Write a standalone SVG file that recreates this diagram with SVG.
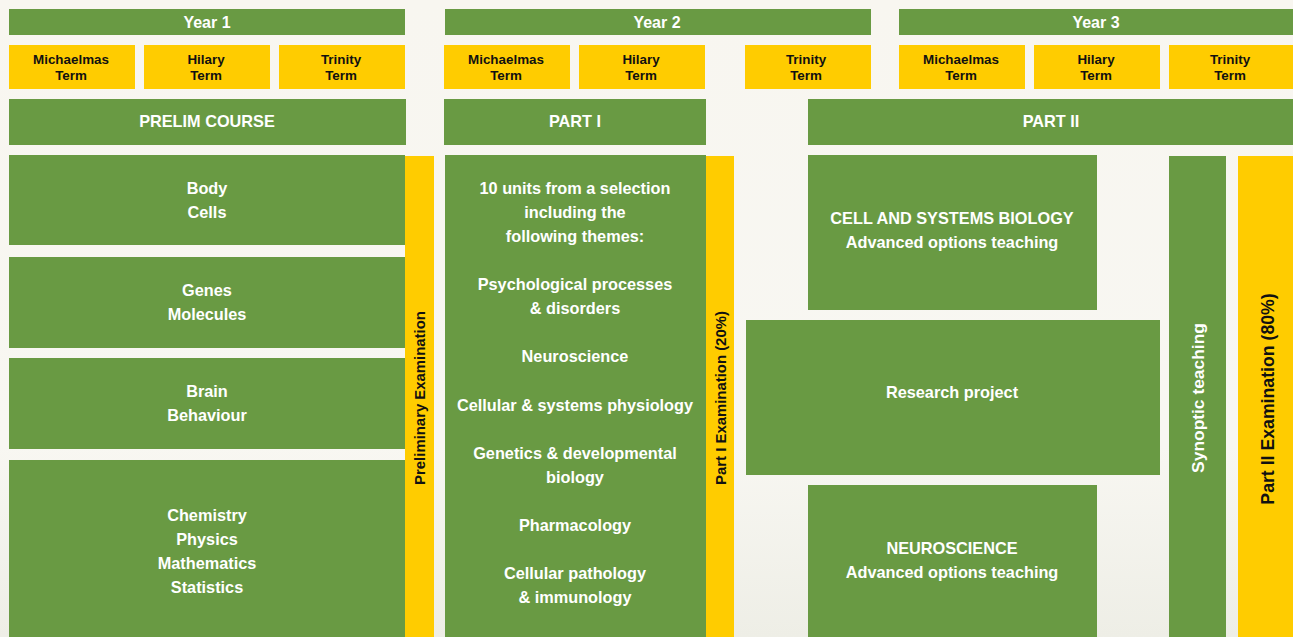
<svg xmlns="http://www.w3.org/2000/svg" width="1293" height="637" viewBox="0 0 1293 637">
<defs>
<linearGradient id="bg" x1="0" y1="0" x2="0" y2="1">
<stop offset="0" stop-color="#F8F6F0"/>
<stop offset="0.7" stop-color="#F8F7F2"/>
<stop offset="1" stop-color="#EEEEE6"/>
</linearGradient>
</defs>
<style>
.g{fill:#699A43}
.y{fill:#FFCC00}
text{font-family:"Liberation Sans",Arial,sans-serif;font-weight:bold;text-anchor:middle;dominant-baseline:central}
.w{fill:#FFFFFF;font-size:16.3px}
.yr{fill:#FFFFFF;font-size:16px}
.t{fill:#111111;font-size:13.4px}
.v{fill:#111111;font-size:14.9px}
.vw{fill:#FFFFFF;font-size:17.4px}
.vb{fill:#111111;font-size:17.7px}
</style>
<rect width="1293" height="637" fill="url(#bg)"/>

<g id="year1"><rect class="g" x="9" y="9" width="396" height="26"/><text class="yr" x="207" y="22">Year 1</text></g>
<g id="year2"><rect class="g" x="445" y="9" width="426" height="26"/><text class="yr" x="657" y="22">Year 2</text></g>
<g id="year3"><rect class="g" x="899" y="9" width="394" height="26"/><text class="yr" x="1096" y="22">Year 3</text></g>

<g id="y1-mich"><rect class="y" x="9" y="45" width="126" height="44"/><text class="t" x="71" y="59">Michaelmas</text><text class="t" x="71" y="75">Term</text></g>
<g id="y1-hil"><rect class="y" x="144" y="45" width="126" height="44"/><text class="t" x="206" y="59">Hilary</text><text class="t" x="206" y="75">Term</text></g>
<g id="y1-tri"><rect class="y" x="279" y="45" width="126" height="44"/><text class="t" x="341" y="59">Trinity</text><text class="t" x="341" y="75">Term</text></g>
<g id="y2-mich"><rect class="y" x="444" y="45" width="126" height="44"/><text class="t" x="506" y="59">Michaelmas</text><text class="t" x="506" y="75">Term</text></g>
<g id="y2-hil"><rect class="y" x="579" y="45" width="126" height="44"/><text class="t" x="641" y="59">Hilary</text><text class="t" x="641" y="75">Term</text></g>
<g id="y2-tri"><rect class="y" x="745" y="45" width="126" height="44"/><text class="t" x="806" y="59">Trinity</text><text class="t" x="806" y="75">Term</text></g>
<g id="y3-mich"><rect class="y" x="899" y="45" width="126" height="44"/><text class="t" x="961" y="59">Michaelmas</text><text class="t" x="961" y="75">Term</text></g>
<g id="y3-hil"><rect class="y" x="1034" y="45" width="126" height="44"/><text class="t" x="1096" y="59">Hilary</text><text class="t" x="1096" y="75">Term</text></g>
<g id="y3-tri"><rect class="y" x="1169" y="45" width="126" height="44"/><text class="t" x="1230" y="59">Trinity</text><text class="t" x="1230" y="75">Term</text></g>

<g id="prelim"><rect class="g" x="9" y="99" width="397" height="46"/><text class="w" x="207" y="121">PRELIM COURSE</text></g>
<g id="part1"><rect class="g" x="444" y="99" width="262" height="46"/><text class="w" x="575" y="121">PART I</text></g>
<g id="part2"><rect class="g" x="808" y="99" width="485" height="46"/><text class="w" x="1051" y="121">PART II</text></g>

<g id="body-cells"><rect class="g" x="9" y="155" width="396" height="90"/><text class="w" x="207" y="188">Body</text><text class="w" x="207" y="212">Cells</text></g>
<g id="genes"><rect class="g" x="9" y="257" width="396" height="91"/><text class="w" x="207" y="290">Genes</text><text class="w" x="207" y="314">Molecules</text></g>
<g id="brain"><rect class="g" x="9" y="358" width="396" height="91"/><text class="w" x="207" y="391">Brain</text><text class="w" x="207" y="415">Behaviour</text></g>
<g id="chem"><rect class="g" x="9" y="460" width="396" height="177"/><text class="w" x="207" y="515">Chemistry</text><text class="w" x="207" y="539">Physics</text><text class="w" x="207" y="563">Mathematics</text><text class="w" x="207" y="587">Statistics</text></g>

<g id="prelim-exam"><rect class="y" x="405" y="156" width="29" height="481"/><text class="v" transform="translate(420 398) rotate(-90)">Preliminary Examination</text></g>

<g id="part1-units"><rect class="g" x="445" y="155" width="261" height="482"/>
<text class="w" x="575" y="188">10 units from a selection</text>
<text class="w" x="575" y="212">including the</text>
<text class="w" x="575" y="236">following themes:</text>
<text class="w" x="575" y="284">Psychological processes</text>
<text class="w" x="575" y="308">&amp; disorders</text>
<text class="w" x="575" y="356">Neuroscience</text>
<text class="w" x="575" y="405">Cellular &amp; systems physiology</text>
<text class="w" x="575" y="453">Genetics &amp; developmental</text>
<text class="w" x="575" y="477">biology</text>
<text class="w" x="575" y="525">Pharmacology</text>
<text class="w" x="575" y="573">Cellular pathology</text>
<text class="w" x="575" y="597">&amp; immunology</text>
</g>

<g id="part1-exam"><rect class="y" x="706" y="156" width="28" height="481"/><text class="v" transform="translate(721 398) rotate(-90)">Part I Examination (20%)</text></g>

<g id="cell-sys"><rect class="g" x="808" y="155" width="289" height="155"/><text class="w" x="952" y="218">CELL AND SYSTEMS BIOLOGY</text><text class="w" x="952" y="242">Advanced options teaching</text></g>
<g id="research"><rect class="g" x="746" y="320" width="414" height="155"/><text class="w" x="952" y="392">Research project</text></g>
<g id="neuro"><rect class="g" x="808" y="485" width="289" height="152"/><text class="w" x="952" y="548">NEUROSCIENCE</text><text class="w" x="952" y="572">Advanced options teaching</text></g>

<g id="synoptic"><rect class="g" x="1169" y="156" width="57" height="481"/><text class="vw" transform="translate(1198 398) rotate(-90)">Synoptic teaching</text></g>
<g id="part2-exam"><rect class="y" x="1238" y="156" width="55" height="481"/><text class="vb" transform="translate(1268 399) rotate(-90)">Part II Examination (80%)</text></g>

<g id="connectors"></g>
</svg>
